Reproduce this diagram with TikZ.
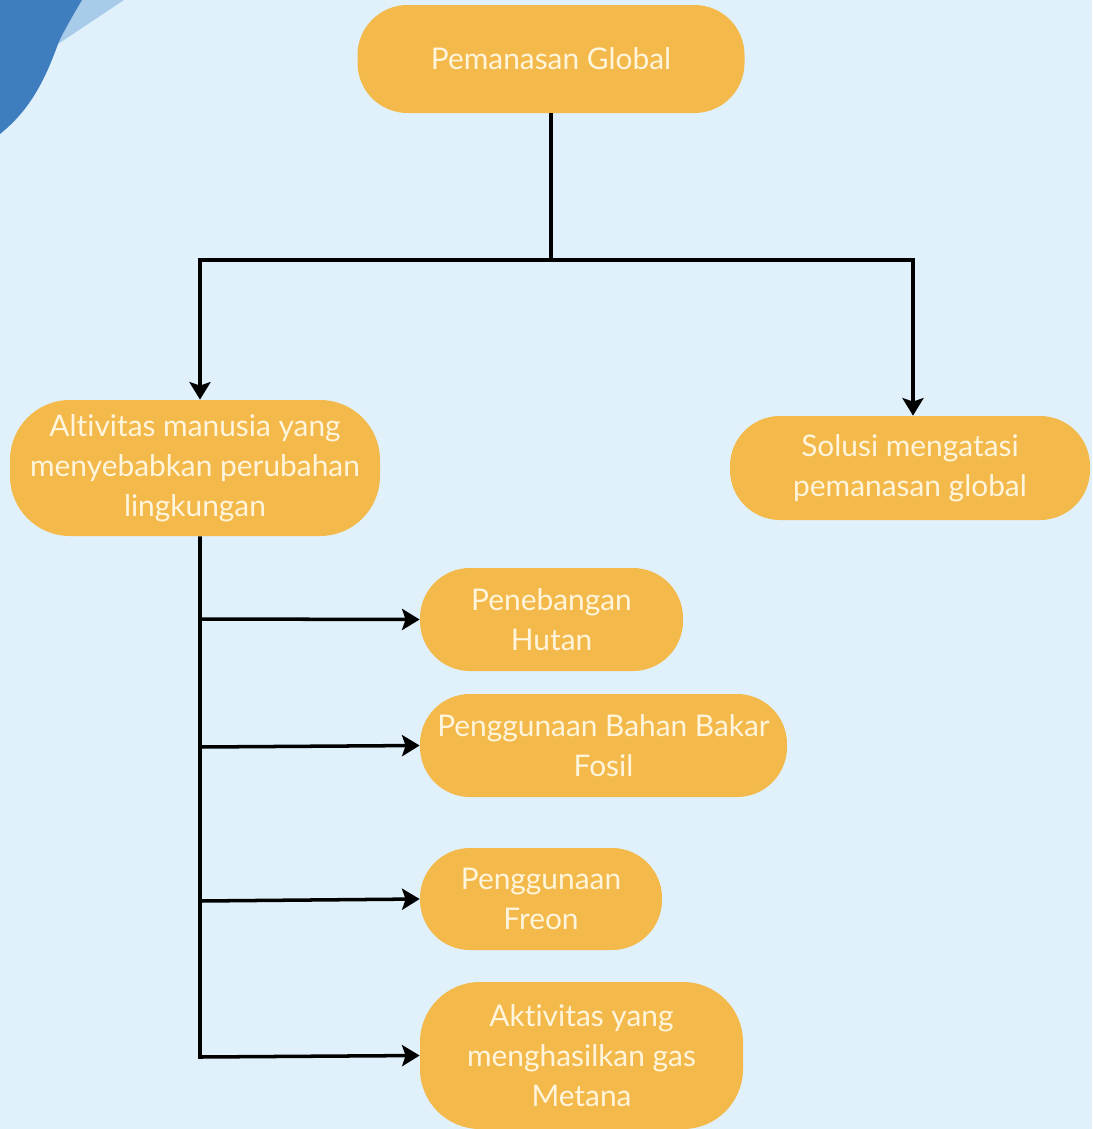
\documentclass[tikz,border=0pt]{standalone}
\usepackage{fontspec}
\setmainfont{Lato}[Ligatures={NoCommon}]
\usetikzlibrary{arrows.meta}
\definecolor{bg}{HTML}{E0F1FC}
\definecolor{nodefill}{HTML}{F4B94B}
\definecolor{nodetext}{HTML}{FFF5DC}
\definecolor{darkblue}{HTML}{3E7EBE}
\definecolor{lightblue}{HTML}{A9CBEA}
\tikzset{
  box/.style={fill=nodefill, text=nodetext, rounded corners=1cm, align=center,
    inner sep=0pt, font=\fontsize{17}{22.7}\selectfont},
  conn/.style={line width=2pt, draw=black, line join=miter},
  arr/.style={conn, -{Stealth[length=10pt,width=12pt,inset=2pt]}}
}
\begin{document}
\begin{tikzpicture}[x=0.02cm,y=-0.02cm]
\useasboundingbox (0,0) rectangle (1092,1129);
\fill[bg] (0,0) rectangle (1092,1129);
% corner decoration
\fill[lightblue] (80,0) -- (124,0) -- (58,44) -- cycle;
\fill[darkblue] (0,0) -- (82,0) .. controls (70,20) and (62,35) .. (58,44)
  .. controls (45,80) and (30,110) .. (0,134) -- cycle;
% nodes
\node[box, minimum width=387*0.02cm, minimum height=108*0.02cm] (top) at (551,59) {Pemanasan Global};
\node[box, rounded corners=1.2cm, minimum width=370*0.02cm, minimum height=136*0.02cm] (act) at (195,468) {Altivitas manusia yang\\menyebabkan perubahan\\lingkungan};
\node[box, minimum width=360*0.02cm, minimum height=104*0.02cm] (sol) at (910,468) {Solusi mengatasi\\pemanasan global};
\node[box, minimum width=263*0.02cm, minimum height=103*0.02cm] (n1) at (551.5,619.5) {Penebangan\\Hutan};
\node[box, minimum width=367*0.02cm, minimum height=103*0.02cm] (n2) at (603.5,745.5) {Penggunaan Bahan Bakar\\Fosil};
\node[box, minimum width=242*0.02cm, minimum height=102*0.02cm] (n3) at (541,899) {Penggunaan\\Freon};
\node[box, rounded corners=1.2cm, minimum width=323*0.02cm, minimum height=147*0.02cm] (n4) at (581.5,1055.5) {Aktivitas yang\\menghasilkan gas\\Metana};
% coordinates
\coordinate (j) at (551,260);
\coordinate (jl) at (200,260);
\coordinate (jr) at (913,260);
\coordinate (t1) at (200,619);
\coordinate (t2) at (200,747);
\coordinate (t3) at (200,901);
\coordinate (t4) at (200,1057);
% connectors
\draw[conn] (top.south) -- (j);
\draw[arr] (j) -- (jl) -- (jl |- act.north);
\draw[arr] (j) -- (jr) -- (jr |- sol.north);
\draw[arr] (jl |- act.south) -- (t4) -- (n4.west);
\draw[arr] (t1) -- (n1.west);
\draw[arr] (t2) -- (n2.west);
\draw[arr] (t3) -- (n3.west);
\end{tikzpicture}
\end{document}
